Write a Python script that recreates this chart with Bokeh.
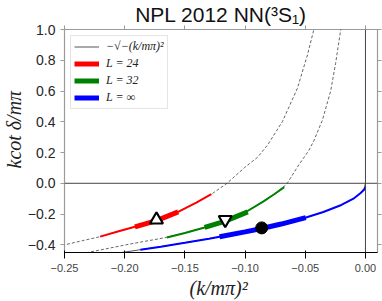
from bokeh.plotting import figure
from bokeh.models import (Span, Legend, LegendItem, FixedTicker, LinearAxis, Title,
                          CustomJSTickFormatter, Range1d)
from bokeh.embed import file_html
from bokeh.resources import INLINE

# ---------------- data ----------------
x_ticks = [-0.25, -0.20, -0.15, -0.10, -0.05, 0.00]
y_ticks = [-0.4, -0.2, 0.0, 0.2, 0.4, 0.6, 0.8, 1.0]

# dashed finite-volume curves
dash24_x = [-0.252, -0.235, -0.2204, -0.205, -0.1915, -0.1736, -0.1556, -0.1405, -0.128,
            -0.115, -0.1006, -0.0895, -0.0812, -0.0689, -0.0565, -0.0482, -0.0432, -0.0420]
dash24_y = [-0.404, -0.373, -0.347, -0.312, -0.283, -0.243, -0.186, -0.125, -0.071,
            0.0, 0.101, 0.170, 0.250, 0.403, 0.618, 0.834, 0.990, 1.02]
dash32_x = [-0.232, -0.2231, -0.1956, -0.1653, -0.150, -0.1336, -0.117, -0.100, -0.085,
            -0.0758, -0.0661, -0.0647, -0.0551, -0.0469, -0.0427, -0.0358, -0.0289, -0.0248,
            -0.0207, -0.0202]
dash32_y = [-0.452, -0.438, -0.395, -0.352, -0.323, -0.287, -0.248, -0.190, -0.119,
            -0.071, -0.011, 0.004, 0.123, 0.215, 0.280, 0.410, 0.600, 0.780, 0.990, 1.02]

# -sqrt(-(k/m)^2) reference curve
sqrt_x = [-0.2025, -0.187, -0.170, -0.150, -0.130, -0.110, -0.090, -0.070, -0.050,
          -0.035, -0.020, -0.010, -0.004, -0.001, 0.0]
sqrt_y = [-0.450, -0.432, -0.412, -0.387, -0.360, -0.332, -0.300, -0.265, -0.224,
          -0.187, -0.141, -0.100, -0.063, -0.032, 0.0]

# L = 24
l24_x = [-0.2204, -0.205, -0.1915, -0.1736, -0.1556, -0.1405, -0.128]
l24_y = [-0.347, -0.312, -0.283, -0.243, -0.186, -0.125, -0.071]
l24_band_x = [-0.1915, -0.1736, -0.1556]
l24_band_y = [-0.283, -0.243, -0.186]

# L = 32
l32_x = [-0.165, -0.150, -0.1336, -0.117, -0.100, -0.085, -0.0758, -0.0675]
l32_y = [-0.352, -0.323, -0.287, -0.248, -0.190, -0.119, -0.071, -0.025]
l32_band_x = [-0.1336, -0.117, -0.0978]
l32_band_y = [-0.287, -0.248, -0.186]

# L = infinity
linf_x = [-0.187, -0.170, -0.150, -0.130, -0.110, -0.090, -0.070, -0.050, -0.035,
          -0.020, -0.010, -0.004, -0.001, 0.0]
linf_y = [-0.432, -0.412, -0.387, -0.360, -0.332, -0.300, -0.265, -0.224, -0.187,
          -0.141, -0.100, -0.063, -0.040, -0.025]
linf_band_x = [-0.1212, -0.100, -0.0862, -0.070, -0.0496]
linf_band_y = [-0.348, -0.316, -0.294, -0.265, -0.223]

# markers
tri_up_x, tri_up_y = [-0.1736], [-0.237]
tri_dn_x, tri_dn_y = [-0.1165], [-0.237]
dot_x, dot_y = [-0.0862], [-0.290]

labels = ["\u2212\u221a\u2212(k/m\u03c0)\u00b2", "L = 24", "L = 32", "L = \u221e"]
title_text = "NPL 2012 NN(\u00b3S\u2081)"
xlabel_text = "(k/m\u03c0)\u00b2"
ylabel_text = "kcot \u03b4/m\u03c0"

# ---------------- figure ----------------
p = figure(width=382, height=301, x_range=Range1d(-0.25, 0.01), y_range=Range1d(-0.45, 1.0),
           output_backend="svg", toolbar_location=None,
           min_border_left=62, min_border_right=5, min_border_top=28, min_border_bottom=49)
p.xgrid.grid_line_color = None
p.ygrid.grid_line_color = None
p.outline_line_color = "#9a9a9a"
p.outline_line_width = 1.2
p.background_fill_color = "white"
p.border_fill_color = "white"

p.title.text = title_text
p.title.align = "center"
p.title.text_font = "Liberation Sans"
p.title.text_font_style = "normal"
p.title.text_font_size = "21px"
p.title.text_color = "#111111"
p.title.standoff = 0

fmt_x = CustomJSTickFormatter(code="return tick.toFixed(2).replace('-', '\\u2212');")
fmt_y = CustomJSTickFormatter(code="return tick.toFixed(1).replace('-', '\\u2212');")
blank = CustomJSTickFormatter(code="return '';")

p.xaxis.ticker = FixedTicker(ticks=x_ticks)
p.yaxis.ticker = FixedTicker(ticks=y_ticks)
p.xaxis.formatter = fmt_x
p.yaxis.formatter = fmt_y
top_ax = LinearAxis(ticker=FixedTicker(ticks=x_ticks), formatter=blank)
right_ax = LinearAxis(ticker=FixedTicker(ticks=y_ticks), formatter=blank)
p.add_layout(top_ax, "above")
p.add_layout(right_ax, "right")

for ax in [p.xaxis[0], p.yaxis[0], top_ax, right_ax]:
    ax.axis_line_color = None
    ax.major_tick_line_color = "#9a9a9a"
    ax.major_tick_line_width = 1
    ax.major_tick_out = 4
    ax.major_tick_in = 0
    ax.minor_tick_line_color = None
    ax.major_label_text_font = "Liberation Sans"
    ax.major_label_text_font_size = "14px"
    ax.major_label_text_color = "#262626"
p.xaxis[0].major_label_standoff = 2
p.yaxis[0].major_label_standoff = 5
top_ax.major_label_standoff = 0
right_ax.major_label_standoff = 0

# axis titles (kept as text, placed beside the axes)
xt = Title(text=xlabel_text, align="left", offset=125, standoff=0,
           text_font="Liberation Serif", text_font_style="italic", text_font_size="20px",
           text_color="#222222")
yt = Title(text=ylabel_text, align="left", offset=84, standoff=0,
           text_font="Liberation Serif", text_font_style="italic", text_font_size="20px",
           text_color="#222222")
p.add_layout(xt, "below")
p.add_layout(yt, "left")

# zero lines
p.add_layout(Span(location=0, dimension="width", line_color="#444444", line_width=1))
p.add_layout(Span(location=0, dimension="height", line_color="#444444", line_width=1))

# curves
p.line(dash24_x, dash24_y, line_color="#555555", line_width=0.9, line_dash="3 2")
p.line(dash32_x, dash32_y, line_color="#555555", line_width=0.9, line_dash="3 2")
r_sqrt = p.line(sqrt_x, sqrt_y, line_color="#555555", line_width=1)

p.line(l24_x, l24_y, line_color="red", line_width=2)
r24 = p.line(l24_band_x, l24_band_y, line_color="red", line_width=5)
p.line(l32_x, l32_y, line_color="green", line_width=2)
r32 = p.line(l32_band_x, l32_band_y, line_color="green", line_width=5)
p.line(linf_x, linf_y, line_color="blue", line_width=2)
rinf = p.line(linf_band_x, linf_band_y, line_color="blue", line_width=5)

p.scatter(tri_up_x, tri_up_y, marker="triangle", size=13, fill_color="white",
          line_color="black", line_width=2.2)
p.scatter(tri_dn_x, tri_dn_y, marker="inverted_triangle", size=13, fill_color="white",
          line_color="black", line_width=2.2)
p.scatter(dot_x, dot_y, marker="circle", size=12, fill_color="black", line_color="black")

legend = Legend(items=[LegendItem(label=labels[0], renderers=[r_sqrt]),
                       LegendItem(label=labels[1], renderers=[r24]),
                       LegendItem(label=labels[2], renderers=[r32]),
                       LegendItem(label=labels[3], renderers=[rinf])],
                location="top_left", margin=6, padding=3, spacing=2,
                glyph_width=25, glyph_height=13, label_height=13, label_standoff=7,
                label_text_font="Liberation Serif", label_text_font_style="italic",
                label_text_font_size="12px", label_text_color="#222222",
                border_line_color="#cccccc", border_line_width=1,
                background_fill_color="white", background_fill_alpha=0.9)
p.add_layout(legend)

open("out.html", "w").write(file_html(p, INLINE))
